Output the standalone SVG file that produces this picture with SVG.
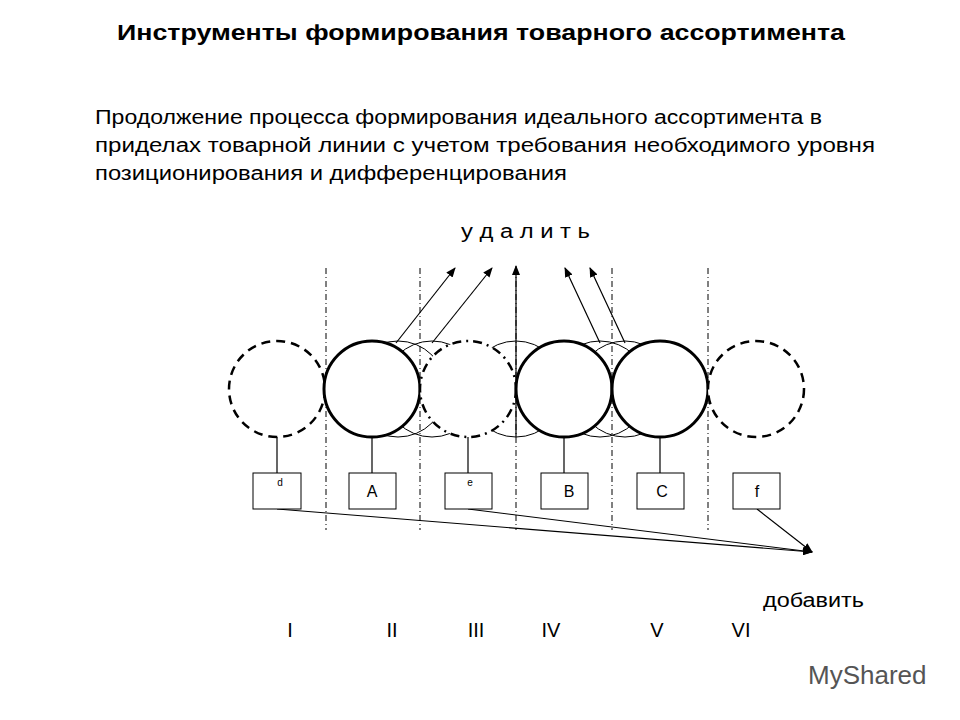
<svg xmlns="http://www.w3.org/2000/svg" width="960" height="720" viewBox="0 0 960 720">
<defs><marker id="ar" markerWidth="10" markerHeight="8" refX="9" refY="4" orient="auto" markerUnits="userSpaceOnUse"><path d="M0,0 L10,4 L0,8 Z" fill="#000"/></marker></defs>
<style>
text{font-family:"Liberation Sans",Arial,sans-serif;fill:#000}
.thin{fill:none;stroke:#000;stroke-width:1}
.main{fill:#fff;stroke:#000;stroke-width:3}
.dash{fill:#fff;stroke:#000;stroke-width:2.5;stroke-dasharray:9,6}
.dashdot{fill:#fff;stroke:#000;stroke-width:2.5;stroke-dasharray:9,5,2,5}
.sep{stroke:#000;stroke-width:1;stroke-dasharray:6,3,1,3}
.box{fill:#fff;stroke:#000;stroke-width:1}
.ln{stroke:#000;stroke-width:1.2;fill:none}
</style>
<rect width="960" height="720" fill="#fff"/>
<text x="117" y="40" font-size="22" font-weight="bold" textLength="728" lengthAdjust="spacingAndGlyphs">Инструменты формирования товарного ассортимента</text>
<text x="95" y="124" font-size="20" textLength="727" lengthAdjust="spacingAndGlyphs">Продолжение процесса формирования идеального ассортимента в</text>
<text x="95" y="152" font-size="20" textLength="780" lengthAdjust="spacingAndGlyphs">приделах товарной линии с учетом требования необходимого уровня</text>
<text x="95" y="180" font-size="20" textLength="472" lengthAdjust="spacingAndGlyphs">позиционирования и дифференцирования</text>
<text x="461" y="238" font-size="20" textLength="129" lengthAdjust="spacingAndGlyphs">у д а л и т ь</text>
<g id="separators">
<line class="sep" x1="326" y1="268" x2="326" y2="530"/><line class="sep" x1="420" y1="268" x2="420" y2="530"/><line class="sep" x1="516" y1="268" x2="516" y2="530"/><line class="sep" x1="612" y1="268" x2="612" y2="530"/><line class="sep" x1="708" y1="268" x2="708" y2="530"/>
</g>
<g id="ghosts">
<circle class="thin" cx="398" cy="389" r="48"/><circle class="thin" cx="432" cy="389" r="48"/><circle class="thin" cx="516" cy="389" r="48"/><circle class="thin" cx="600" cy="389" r="48"/><circle class="thin" cx="625" cy="389" r="48"/>
</g>
<g id="connectors">
<line class="ln" x1="277" y1="437" x2="277" y2="473"/><line class="ln" x1="372" y1="437" x2="372" y2="473"/><line class="ln" x1="468" y1="437" x2="468" y2="473"/><line class="ln" x1="564" y1="437" x2="564" y2="473"/><line class="ln" x1="660" y1="437" x2="660" y2="473"/>
<line class="ln" x1="396" y1="343" x2="455" y2="268" marker-end="url(#ar)"/>
<line class="ln" x1="432" y1="343" x2="492" y2="268" marker-end="url(#ar)"/>
<line class="ln" x1="516" y1="437" x2="516" y2="266" marker-end="url(#ar)"/>
<line class="ln" x1="600" y1="343" x2="565" y2="268" marker-end="url(#ar)"/>
<line class="ln" x1="625" y1="343" x2="590" y2="268" marker-end="url(#ar)"/>
<line class="ln" x1="277" y1="509" x2="812" y2="552" marker-end="url(#ar)"/>
<line class="ln" x1="468" y1="509" x2="812" y2="552" marker-end="url(#ar)"/>
<line class="ln" x1="757" y1="509" x2="812" y2="552" marker-end="url(#ar)"/>
</g>
<g id="node-d"><circle class="dash" cx="277" cy="389" r="48"/><rect class="box" x="253" y="473" width="48" height="36"/><text x="280" y="486" font-size="10" text-anchor="middle">d</text></g>
<g id="node-A"><circle class="main" cx="372" cy="389" r="48"/><rect class="box" x="349" y="473" width="47" height="36"/><text x="372" y="497" font-size="16" text-anchor="middle">A</text></g>
<g id="node-e"><circle class="dashdot" cx="468" cy="389" r="48"/><rect class="box" x="445" y="473" width="47" height="36"/><text x="470" y="486" font-size="10" text-anchor="middle">e</text></g>
<g id="node-B"><circle class="main" cx="564" cy="389" r="48"/><rect class="box" x="541" y="473" width="47" height="36"/><text x="569" y="497" font-size="16" text-anchor="middle">B</text></g>
<g id="node-C"><circle class="main" cx="660" cy="389" r="48"/><rect class="box" x="637" y="473" width="47" height="36"/><text x="662" y="497" font-size="16" text-anchor="middle">C</text></g>
<g id="node-f"><circle class="dash" cx="756" cy="389" r="48"/><rect class="box" x="733" y="473" width="47" height="36"/><text x="757" y="497" font-size="16" text-anchor="middle">f</text></g>
<text x="763" y="607" font-size="20" textLength="101" lengthAdjust="spacingAndGlyphs">добавить</text>
<g font-size="20" text-anchor="middle"><text x="290" y="637">I</text><text x="392" y="637">II</text><text x="476" y="637">III</text><text x="551" y="637">IV</text><text x="657" y="637">V</text><text x="741" y="637">VI</text></g>
<text x="808" y="684" font-size="26" style="fill:#555">MyShared</text>
</svg>
